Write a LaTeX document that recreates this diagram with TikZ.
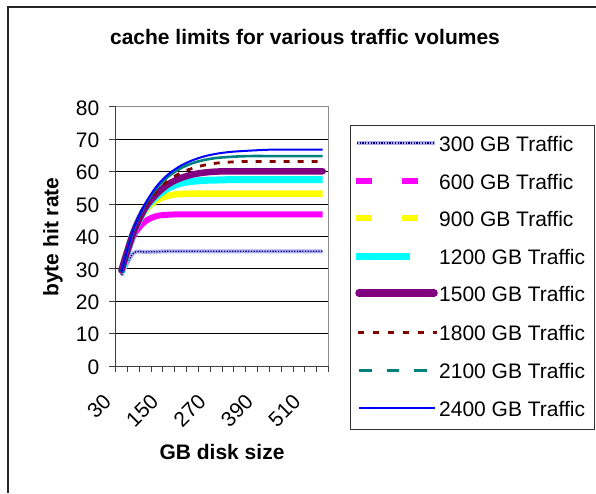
\documentclass[tikz,border=0pt]{standalone}
\usepackage{fontspec}
\setmainfont{Liberation Sans}
\definecolor{cMag}{RGB}{255,0,255}
\definecolor{cYel}{RGB}{255,255,0}
\definecolor{cCya}{RGB}{0,255,255}
\definecolor{cPur}{RGB}{128,0,128}
\definecolor{cDred}{RGB}{128,0,0}
\definecolor{cTeal}{RGB}{0,128,128}
\definecolor{cBlue}{RGB}{0,0,255}
\definecolor{cNavy}{RGB}{0,0,128}
\definecolor{cLav}{RGB}{175,175,235}
\begin{document}
\begin{tikzpicture}[x=1pt,y=-1pt,
  lbl/.style={font=\fontsize{21}{24}\selectfont, inner sep=0pt},
  ttl/.style={font=\bfseries\fontsize{21}{24}\selectfont, inner sep=0pt},
  grid/.style={line width=0.9pt, black},
  axisline/.style={line width=1pt, black!75},
  frameline/.style={line width=1pt, black!45},
  sA/.style={line width=4pt, cLav},
  sAdot/.style={line width=1.3pt, cNavy, dash pattern=on 1.3pt off 1.4pt},
  sB/.style={line width=6pt, cMag},
  sC/.style={line width=6.5pt, cYel},
  sD/.style={line width=7pt, cCya},
  sE/.style={line width=6.5pt, cPur, line cap=round},
  sF/.style={line width=2.8pt, cDred, dash pattern=on 6pt off 8pt},
  sG/.style={line width=2.6pt, cTeal},
  sH/.style={line width=2pt, cBlue},
  smoothplot/.style={smooth, tension=0.5}
]
\useasboundingbox (0,0) rectangle (596,493);
\fill[white] (0,0) rectangle (596,493);
% outer frame (top and left)
\draw[line width=1.6pt, black!85] (596,7) -- (8,7) -- (8,493);

% title
\node[ttl] (title) at (305,37) {cache limits for various traffic volumes};

% gridlines
\foreach \v in {10,20,...,70} {
  \draw[grid] (115.5,{366-\v*3.24}) -- (328.6,{366-\v*3.24});
}
% plot frame
\draw[frameline] (115.5,106.8) -- (328.6,106.8) -- (328.6,366);
\draw[axisline] (115.5,106.8) -- (115.5,366) -- (328.6,366);

% y ticks and labels
\foreach \v in {0,10,...,80} {
  \draw[axisline] (109,{366-\v*3.24}) -- (115.5,{366-\v*3.24});
  \node[lbl, anchor=east] (y\v) at (99.5,{366-\v*3.24+1}) {\v};
}
% x ticks
\foreach \k in {0,...,18} {
  \draw[axisline] ({115.5+\k*11.84},366) -- ({115.5+\k*11.84},372);
}
% x labels
\foreach \k/\t in {0/30,4/150,8/270,12/390,16/510} {
  \node[lbl, rotate=45, anchor=east] (x\t) at ({121.42+\k*11.84-14},398) {\t};
}

% axis titles
\node[ttl, rotate=90] (ytitle) at (53,237) {byte hit rate};
\node[ttl] (xtitle) at (222,452) {GB disk size};

% data series
\begin{scope}[shift={(121.42,366)}, x=11.84pt, y=3.24pt]
\draw[sA] plot[smoothplot] coordinates {(0,28) (1,34.8) (2,35.2) (3,35.3) (4,35.4) (5,35.4) (6,35.4) (7,35.4) (8,35.4) (9,35.4) (10,35.4) (11,35.4) (12,35.4) (13,35.4) (14,35.4) (15,35.4) (16,35.4) (17,35.4)};
\draw[sAdot] plot[smoothplot] coordinates {(0,28) (1,34.8) (2,35.2) (3,35.3) (4,35.4) (5,35.4) (6,35.4) (7,35.4) (8,35.4) (9,35.4) (10,35.4) (11,35.4) (12,35.4) (13,35.4) (14,35.4) (15,35.4) (16,35.4) (17,35.4)};
\draw[sB] plot[smoothplot] coordinates {(0,29) (1,40) (2,44.6) (3,46.3) (4,46.7) (5,46.8) (6,46.8) (7,46.8) (8,46.8) (9,46.8) (10,46.8) (11,46.8) (12,46.8) (13,46.8) (14,46.8) (15,46.8) (16,46.8) (17,46.8)};
\draw[sC] plot[smoothplot] coordinates {(0,29) (1,41) (2,48) (3,51.2) (4,52.6) (5,53.1) (6,53.2) (7,53.2) (8,53.2) (9,53.2) (10,53.2) (11,53.2) (12,53.2) (13,53.2) (14,53.2) (15,53.2) (16,53.2) (17,53.2)};
\draw[sD] plot[smoothplot] coordinates {(0,29) (1,41) (2,48.5) (3,52.5) (4,55) (5,56.4) (6,57) (7,57.3) (8,57.4) (9,57.5) (10,57.5) (11,57.5) (12,57.5) (13,57.5) (14,57.5) (15,57.5) (16,57.5) (17,57.5)};
\draw[sE] plot[smoothplot] coordinates {(0,29.5) (1,41) (2,48.8) (3,53.2) (4,56.2) (5,58) (6,59.1) (7,59.7) (8,60) (9,60.1) (10,60.1) (11,60.1) (12,60.1) (13,60.1) (14,60.1) (15,60.1) (16,60.1) (17,60.1)};
\draw[sF] plot[smoothplot] coordinates {(0,29) (1,41.5) (2,49.3) (3,54) (4,57.3) (5,59.6) (6,61) (7,62) (8,62.6) (9,62.9) (10,63.1) (11,63.1) (12,63.1) (13,63.1) (14,63.1) (15,63.1) (16,63.1) (17,63.1)};
\draw[sG] plot[smoothplot] coordinates {(0,29) (1,41.8) (2,49.8) (3,55) (4,58.6) (5,61) (6,62.6) (7,63.6) (8,64.2) (9,64.5) (10,64.7) (11,64.8) (12,64.8) (13,64.8) (14,64.8) (15,64.8) (16,64.8) (17,64.8)};
\draw[sH] plot[smoothplot] coordinates {(0,29) (1,42) (2,50) (3,55.6) (4,59.3) (5,61.8) (6,63.5) (7,64.7) (8,65.5) (9,66) (10,66.3) (11,66.5) (12,66.7) (13,66.8) (14,66.8) (15,66.8) (16,66.8) (17,66.8)};
\end{scope}

% legend
\draw[line width=1pt, black!80] (350.5,125) rectangle (594.5,429);
\coordinate (l1a) at (357,143);   \coordinate (l1b) at (435,143);
\coordinate (l2a) at (356,181);   \coordinate (l2b) at (418,181);
\coordinate (l3a) at (356,218);   \coordinate (l3b) at (418,218);
\coordinate (l4a) at (356,256);   \coordinate (l4b) at (410,256);
\coordinate (l5a) at (359,293);   \coordinate (l5b) at (434,293);
\coordinate (l6a) at (358,332);   \coordinate (l6b) at (437,332);
\coordinate (l7a) at (359,370);   \coordinate (l7b) at (433,370);
\coordinate (l8a) at (359,408);   \coordinate (l8b) at (435,408);
\draw[line width=3.5pt, cLav] (l1a) -- (l1b);
\draw[sAdot] (l1a) -- (l1b);
\draw[line width=6pt, cMag, dash pattern=on 16pt off 30pt] (l2a) -- (l2b);
\draw[line width=6pt, cYel, dash pattern=on 16pt off 30pt] (l3a) -- (l3b);
\draw[line width=7pt, cCya] (l4a) -- (l4b);
\draw[line width=7.5pt, cPur, line cap=round] (l5a) -- (l5b);
\draw[line width=3pt, cDred, dash pattern=on 5.7pt off 9.3pt] (l6a) -- (l6b);
\draw[line width=3pt, cTeal, dash pattern=on 12.5pt off 15pt] (l7a) -- (l7b);
\draw[line width=2pt, cBlue] (l8a) -- (l8b);
\node[lbl, anchor=west] (t1) at (439,144) {300 GB Traffic};
\node[lbl, anchor=west] (t2) at (439,182) {600 GB Traffic};
\node[lbl, anchor=west] (t3) at (439,219) {900 GB Traffic};
\node[lbl, anchor=west] (t4) at (439,257) {1200 GB Traffic};
\node[lbl, anchor=west] (t5) at (439,294) {1500 GB Traffic};
\node[lbl, anchor=west] (t6) at (439,333) {1800 GB Traffic};
\node[lbl, anchor=west] (t7) at (439,371) {2100 GB Traffic};
\node[lbl, anchor=west] (t8) at (439,409) {2400 GB Traffic};
\end{tikzpicture}
\end{document}
